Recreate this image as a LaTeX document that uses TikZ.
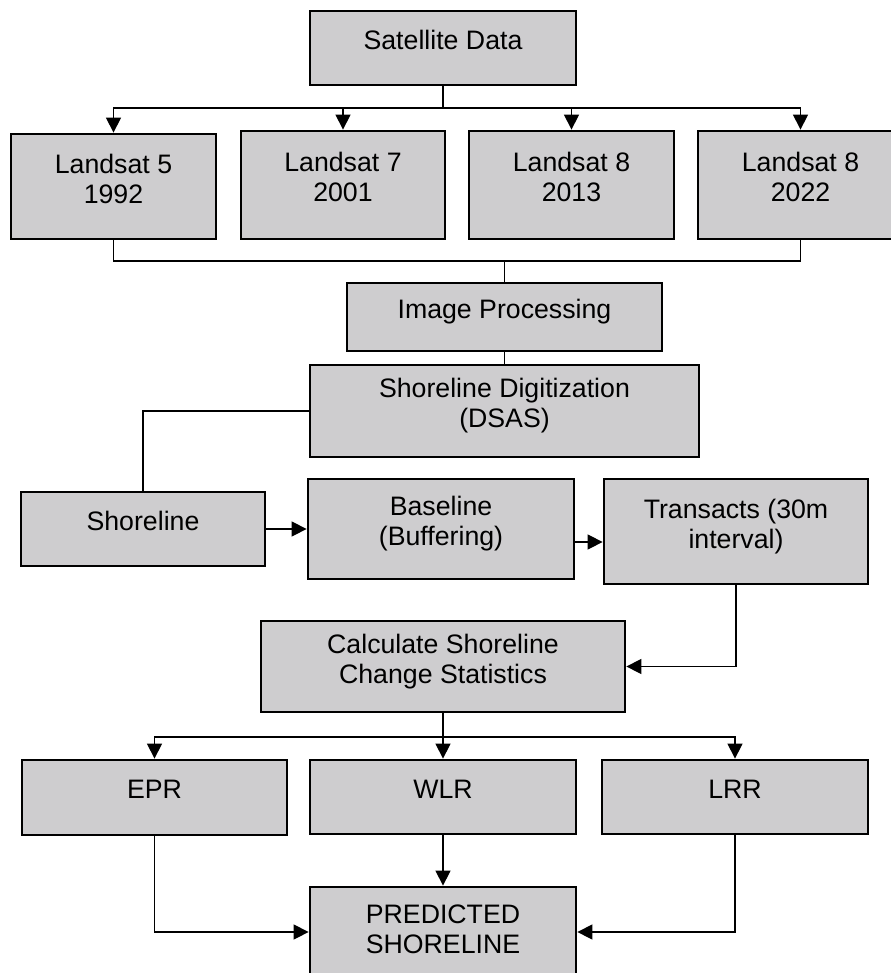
\documentclass[tikz,border=0pt]{standalone}
\usepackage{fontspec}
\setmainfont{Liberation Sans}
\usepackage{xcolor}
\usetikzlibrary{arrows.meta}

\definecolor{boxgray}{RGB}{206,205,207}

\begin{document}
\begin{tikzpicture}[
    x=0.02cm, y=-0.02cm,
    >={Triangle[length=8.5pt, width=8.5pt]},
    line width=0.7pt,
    box/.style={draw, fill=boxgray, line width=1.6pt, align=center,
        text depth=9pt, font=\fontsize{15.2}{17}\selectfont}
]

    \clip (0,0) rectangle (891,973);

    % Sources
    \node[box, minimum width=5.32cm, minimum height=1.48cm] (sat) at (443,48) {Satellite Data};

    \node[box, minimum width=4.10cm, minimum height=2.10cm] (ls5)  at (113.5,186.5) {Landsat 5\\1992};
    \node[box, minimum width=4.08cm, minimum height=2.16cm] (ls7)  at (343,185)     {Landsat 7\\2001};
    \node[box, minimum width=4.10cm, minimum height=2.16cm] (ls8a) at (571.5,185)   {Landsat 8\\2013};
    \node[box, minimum width=4.10cm, minimum height=2.16cm] (ls8b) at (800.5,185)   {Landsat 8\\2022};

    % Processing chain
    \node[box, minimum width=6.30cm, minimum height=1.36cm] (imgproc) at (504.5,317) {Image Processing};
    \node[box, minimum width=7.78cm, minimum height=1.84cm] (dsas)    at (504.5,411) {Shoreline Digitization\\(DSAS)};

    \node[box, minimum width=4.88cm, minimum height=1.48cm] (shore) at (143,529)   {Shoreline};
    \node[box, minimum width=5.32cm, minimum height=2.00cm] (base)  at (441,529)   {Baseline\\(Buffering)};
    \node[box, minimum width=5.28cm, minimum height=2.10cm] (trans) at (736,531.5) {Transacts (30m\\interval)};

    \node[box, minimum width=7.28cm, minimum height=1.82cm] (calc) at (443,666.5) {Calculate Shoreline\\Change Statistics};

    % Statistics
    \node[box, minimum width=5.30cm, minimum height=1.50cm] (epr) at (154.5,797.5) {EPR};
    \node[box, minimum width=5.32cm, minimum height=1.48cm] (wlr) at (443,797)     {WLR};
    \node[box, minimum width=5.32cm, minimum height=1.48cm] (lrr) at (735,797)     {LRR};

    \node[box, minimum width=5.32cm, minimum height=2.00cm] (pred) at (443,937) {PREDICTED\\SHORELINE};

    % Branch and join points
    \coordinate (split1) at (443,108);
    \coordinate (join1)  at (504.5,261);
    \coordinate (split2) at (443,737);

    % Satellite data to the four scenes
    \draw (sat.south) -- (split1);
    \draw[->] (split1) -| (ls5.north);
    \draw[->] (split1) -| (ls7.north);
    \draw[->] (split1) -| (ls8a.north);
    \draw[->] (split1) -| (ls8b.north);

    % Scenes into image processing
    \draw (ls5.south) |- (join1);
    \draw (ls8b.south) |- (join1);
    \draw (join1) -- (imgproc.north);

    \draw (imgproc.south) -- (dsas.north);
    \draw (dsas.west) -| (shore.north);

    \draw[->] (shore.east) -- (base.west);
    \draw[->] ([yshift=-0.26cm]base.east) -- ([yshift=-0.26cm]base.east -| trans.west);
    \draw[->] (trans.south) |- (calc.east);

    % Statistics branch
    \draw (calc.south) -- (split2);
    \draw[->] (split2) -| (epr.north);
    \draw[->] (split2) -- (wlr.north);
    \draw[->] (split2) -| (lrr.north);

    % Prediction
    \draw[->] (wlr.south) -- (pred.north);
    \draw[->] (epr.south) |- ([yshift=0.1cm]pred.west);
    \draw[->] (lrr.south) |- ([yshift=0.1cm]pred.east);

\end{tikzpicture}
\end{document}
